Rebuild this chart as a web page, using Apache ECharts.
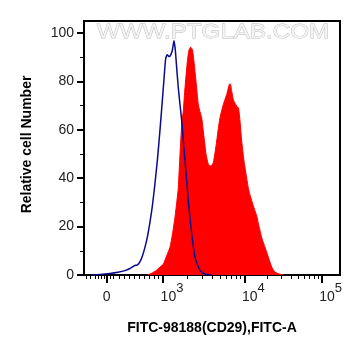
<!DOCTYPE html>
<html>
<head>
<meta charset="utf-8">
<script src="https://cdn.jsdelivr.net/npm/echarts@6/dist/echarts.min.js"></script>
<style>
html,body{margin:0;padding:0;background:#fff;}
#chart{width:361px;height:356px;}
</style>
</head>
<body>
<div id="chart"></div>
<script>
// Display channel units (biexponential display scale, 0 = zero intensity)
const xMin = -22.7, xMax = 233.3;
const majorTickPos = [0, 56.3, 137.6, 215];
const majorTickLabels = ['0', '10^3', '10^4', '10^5'];
const linearMinorTicks = [-20, -16, -11.7, -8.7, -5.7, -2.7, 3.3, 6.3, 13, 18, 23, 28, 33, 38, 43, 47.3, 51.3];
const yTicks = [0, 20, 40, 60, 80, 100];
const yMinorTicks = [10, 30, 50, 70, 90];

// Blue (control) histogram
const blueX = [-15.7, -6.7, 3.3, 11.3, 18.3, 23.3, 26.3, 28.8, 30.8, 33.3, 35.8, 38.3, 40.8, 43.3, 45.8, 48.3, 50.8, 53.3, 55.6, 57.3, 59, 60.6, 62.3, 63.8, 65.6, 67.3, 68.6, 70.1, 71.6, 73.3, 75, 76.6, 78.3, 80, 81.6, 83.3, 85, 86.6, 88.3, 90.8, 93.3, 96.3, 100, 105.3];
const blueY = [0, 0.2, 0.6, 1.1, 1.8, 2.7, 3.5, 4.0, 4.2, 5.5, 8, 11.5, 16, 22, 29, 38, 48, 60, 72, 81, 89.5, 91, 90.3, 90.8, 92.8, 96.8, 93, 85, 77.4, 70.5, 63.7, 55.5, 47.2, 39, 30.7, 23.5, 17, 11.8, 7.4, 4.2, 1.9, 0.8, 0.2, 0];

// Red (CD29 stained) histogram
const redX = [41.3, 45.3, 49.3, 53.3, 56.6, 60, 63.3, 65.8, 68.3, 70.3, 71.6, 73.3, 75, 76.6, 78.3, 80.6, 82.3, 84, 85.8, 88.3, 90, 91.6, 93.3, 95, 96.6, 98.3, 99.3, 101.6, 103.3, 105, 106.6, 108.3, 110, 111.6, 113.3, 115, 116.6, 118.3, 120, 121.3, 122.6, 123.6, 125, 126.6, 128.3, 130, 131.8, 133.3, 135, 137.3, 140, 141.6, 143, 146, 148.3, 150, 151.8, 153.3, 155.3, 158.3, 161.6, 165, 168.3, 173.3, 177.3];
const redY = [0, 0.8, 1.8, 3.3, 4.5, 8, 11.5, 17, 24, 31, 36, 50, 62, 68, 77.4, 88, 93, 94.2, 93, 84.2, 77, 70.5, 67.5, 65, 59.5, 53.5, 50, 45.8, 45.1, 45.3, 46.5, 50.5, 55.4, 60.5, 65, 68, 70.5, 72.6, 74.6, 76.8, 78.8, 79, 76, 72.6, 71, 69.8, 69, 63.7, 55.4, 47.2, 40, 36, 33.5, 29.4, 26.5, 24.5, 21, 18.4, 15, 11.5, 7.4, 3.3, 1.2, 0.3, 0];

const FONT = 'Liberation Sans, Arial, Helvetica, sans-serif';

// log-spaced minor ticks between decades
const minorTicks = linearMinorTicks.slice();
for (let d = 1; d < majorTickPos.length - 1; d++) {
  const a = majorTickPos[d], b = majorTickPos[d + 1];
  for (let k = 2; k <= 9; k++) minorTicks.push(a + (b - a) * Math.log10(k));
}

function fmtX(v) {
  let idx = 0, best = Infinity;
  majorTickPos.forEach((p, i) => { const d = Math.abs(p - v); if (d < best) { best = d; idx = i; } });
  const t = majorTickLabels[idx];
  if (t.indexOf('^') >= 0) {
    const parts = t.split('^');
    return '{sp| }{b|' + parts[0] + '}{s|' + parts[1] + '}';
  }
  return '{b|' + t + '}';
}

const chart = echarts.init(document.getElementById('chart'), null, {renderer: 'canvas'});
const grid = {left: 84, right: 21, top: 21, bottom: 81, show: true, borderColor: '#000', borderWidth: 2, backgroundColor: 'transparent'};
const option = {
  animation: false,
  backgroundColor: '#fff',
  grid: grid,
  graphic: {
    elements: [{
      type: 'text', x: 97, y: 22, scaleX: 1.15, z: -10, silent: true,
      style: {text: 'WWW.PTGLAB.COM', font: '21px ' + FONT, fill: '#f3f3f3', stroke: '#bcbcbc', lineWidth: 0.8}
    }]
  },
  xAxis: [{
    type: 'value', min: xMin, max: xMax,
    name: 'FITC-98188(CD29),FITC-A', nameLocation: 'middle', nameGap: 46,
    nameTextStyle: {fontFamily: FONT, fontSize: 14, fontWeight: 'bold', color: '#000'},
    axisLine: {show: true, onZero: false, lineStyle: {color: '#000', width: 2}},
    axisTick: {show: true, customValues: majorTickPos, length: 8, inside: false, lineStyle: {color: '#000', width: 2}},
    axisLabel: {
      customValues: majorTickPos, margin: 7, formatter: fmtX,
      rich: {
        b: {fontFamily: FONT, fontSize: 14, color: '#222', verticalAlign: 'bottom', lineHeight: 22},
        s: {fontFamily: FONT, fontSize: 13, color: '#222', verticalAlign: 'top', lineHeight: 22},
        sp: {fontSize: 14, width: 18}
      }
    },
    splitLine: {show: false}
  }, {
    type: 'value', min: xMin, max: xMax, position: 'bottom', gridIndex: 0,
    axisLine: {show: false, onZero: false},
    axisTick: {show: true, customValues: minorTicks, length: 4, lineStyle: {color: '#000', width: 1}},
    axisLabel: {show: false},
    splitLine: {show: false}
  }],
  yAxis: [{
    type: 'value', min: 0, max: 105,
    name: 'Relative cell Number', nameLocation: 'middle', nameGap: 50,
    nameTextStyle: {fontFamily: FONT, fontSize: 14, fontWeight: 'bold', color: '#000', padding: [0, 0, 0, 7]},
    axisLine: {show: true, onZero: false, lineStyle: {color: '#000', width: 2}},
    axisTick: {show: true, customValues: yTicks, length: 7, lineStyle: {color: '#000', width: 2}},
    axisLabel: {customValues: yTicks, margin: 10, fontFamily: FONT, fontSize: 14, color: '#222'},
    splitLine: {show: false}
  }, {
    type: 'value', min: 0, max: 105, position: 'left', gridIndex: 0,
    axisLine: {show: false, onZero: false},
    axisTick: {show: true, customValues: yMinorTicks, length: 4, lineStyle: {color: '#000', width: 1}},
    axisLabel: {show: false},
    splitLine: {show: false}
  }],
  series: [{
    type: 'line', name: 'CD29', xAxisIndex: 0, yAxisIndex: 0,
    data: redX.map((x, i) => [x, redY[i]]),
    symbol: 'none', smooth: 0.2,
    lineStyle: {color: '#ff0000', width: 1},
    areaStyle: {color: '#ff0000', opacity: 1},
    z: 2
  }, {
    type: 'line', name: 'Control', xAxisIndex: 0, yAxisIndex: 0,
    data: blueX.map((x, i) => [x, blueY[i]]),
    symbol: 'none', smooth: 0.2,
    lineStyle: {color: '#0a0a8c', width: 1.5},
    z: 3
  }]
};
chart.setOption(option);
</script>
</body>
</html>
